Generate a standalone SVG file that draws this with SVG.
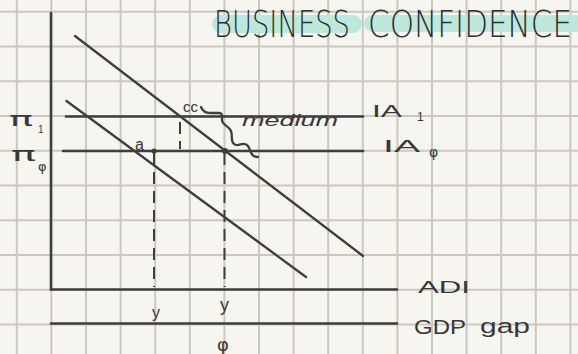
<svg xmlns="http://www.w3.org/2000/svg" width="578" height="354" viewBox="0 0 578 354">
<defs>
<style>
.grid line{stroke:#cdc8bf;stroke-width:2}
.ln{stroke:#3e3e3e;stroke-width:2.6;fill:none;stroke-linecap:round}
.dg{stroke:#3e3e3e;stroke-width:2.3;fill:none;stroke-linecap:round}
.ds{stroke:#3e3e3e;stroke-width:2;fill:none;stroke-dasharray:12 7}
.t{font-family:"Liberation Sans",Arial,sans-serif;fill:#383838}
.h{font-family:"DejaVu Sans",sans-serif;font-weight:200;fill:#2e2e2e}
.p{font-family:"DejaVu Sans",sans-serif;fill:#383838}
</style>
</defs>
<rect width="578" height="354" fill="#f7f5f0"/>
<g class="grid" id="grid">
<line x1="16.8" y1="0" x2="16.8" y2="354"/><line x1="51.4" y1="0" x2="51.4" y2="354"/><line x1="86" y1="0" x2="86" y2="354"/><line x1="120.6" y1="0" x2="120.6" y2="354"/><line x1="155.2" y1="0" x2="155.2" y2="354"/><line x1="189.8" y1="0" x2="189.8" y2="354"/><line x1="224.4" y1="0" x2="224.4" y2="354"/><line x1="259" y1="0" x2="259" y2="354"/><line x1="293.6" y1="0" x2="293.6" y2="354"/><line x1="328.2" y1="0" x2="328.2" y2="354"/><line x1="362.8" y1="0" x2="362.8" y2="354"/><line x1="397.4" y1="0" x2="397.4" y2="354"/><line x1="432" y1="0" x2="432" y2="354"/><line x1="466.6" y1="0" x2="466.6" y2="354"/><line x1="501.2" y1="0" x2="501.2" y2="354"/><line x1="535.8" y1="0" x2="535.8" y2="354"/><line x1="570.4" y1="0" x2="570.4" y2="354"/>
<line x1="0" y1="11.8" x2="578" y2="11.8"/><line x1="0" y1="46.6" x2="578" y2="46.6"/><line x1="0" y1="81.3" x2="578" y2="81.3"/><line x1="0" y1="116" x2="578" y2="116"/><line x1="0" y1="150.8" x2="578" y2="150.8"/><line x1="0" y1="185.5" x2="578" y2="185.5"/><line x1="0" y1="220.2" x2="578" y2="220.2"/><line x1="0" y1="255" x2="578" y2="255"/><line x1="0" y1="289.7" x2="578" y2="289.7"/><line x1="0" y1="324.5" x2="578" y2="324.5"/>
</g>
<g id="title">
<rect x="212" y="15" width="150" height="18" rx="9" fill="#bfe8dc"/>
<rect x="364" y="15" width="220" height="17" rx="8.5" fill="#bfe8dc"/>
<g transform="translate(0,37) scale(1,1.3)">
<text class="h" x="214" y="0" font-size="28" textLength="136" lengthAdjust="spacingAndGlyphs">BUSINESS</text>
<text class="h" x="368" y="0" font-size="28" textLength="204" lengthAdjust="spacingAndGlyphs">CONFIDENCE</text>
</g>
</g>
<g id="axes">
<line class="ln" x1="51" y1="13" x2="51" y2="289.5"/>
<line class="ln" x1="51" y1="289.5" x2="397" y2="289.5"/>
<line class="ln" x1="51" y1="323.5" x2="397" y2="323.5"/>
</g>
<g id="connectors">
<line class="ln" x1="66" y1="116.5" x2="363" y2="116.5"/>
<line class="ln" x1="63" y1="151" x2="363" y2="151"/>
<line class="dg" x1="75" y1="36" x2="363" y2="256"/>
<line class="dg" x1="66.5" y1="101" x2="306" y2="277"/>
<line class="ds" x1="154" y1="153" x2="154" y2="287"/>
<line class="ds" x1="224.5" y1="153" x2="224.5" y2="287"/>
<line class="ds" x1="180" y1="122" x2="180" y2="149"/>
<circle cx="154" cy="151" r="2.6" fill="#3e3e3e"/>
<circle cx="225" cy="151" r="3" fill="#3e3e3e"/>
<path class="dg" stroke-width="1.8" d="M201,107 C203,112 206,113 210,113 L219,113 C223,113 222,117 222,120 C222,125 229,126 231,131 C233,136 230,140 234,144 C238,148 244,140 248,146 C251,150 250,157 258,157"/>
</g>
<g id="labels">
<text class="p" x="9" y="126" font-size="20" textLength="24" lengthAdjust="spacingAndGlyphs">π</text>
<text class="t" x="38" y="133" font-size="10">1</text>
<text class="p" x="11" y="161" font-size="20" textLength="25" lengthAdjust="spacingAndGlyphs">π</text>
<text class="p" x="38" y="171" font-size="13">φ</text>
<text class="t" x="135" y="150" font-size="16">a</text>
<text class="t" x="183" y="112" font-size="15">cc</text>
<text class="t" x="242" y="126" font-size="16" font-style="italic" textLength="96" lengthAdjust="spacingAndGlyphs">medium</text>
<text class="t" x="372" y="117" font-size="17" textLength="30" lengthAdjust="spacingAndGlyphs">IA</text>
<text class="t" x="417" y="121" font-size="12">1</text>
<text class="t" x="383" y="152" font-size="17" textLength="37" lengthAdjust="spacingAndGlyphs">IA</text>
<text class="p" x="429" y="157" font-size="14">φ</text>
<text class="t" x="418" y="293" font-size="17" textLength="52" lengthAdjust="spacingAndGlyphs">ADI</text>
<text class="t" x="414" y="334" font-size="20" textLength="52" lengthAdjust="spacingAndGlyphs">GDP</text>
<text class="t" x="480" y="333" font-size="20" textLength="50" lengthAdjust="spacingAndGlyphs">gap</text>
<text class="t" x="152" y="318" font-size="16">y</text>
<text class="t" x="220" y="311" font-size="18">y</text>
<text class="p" x="217" y="351" font-size="18">φ</text>
</g>
</svg>
